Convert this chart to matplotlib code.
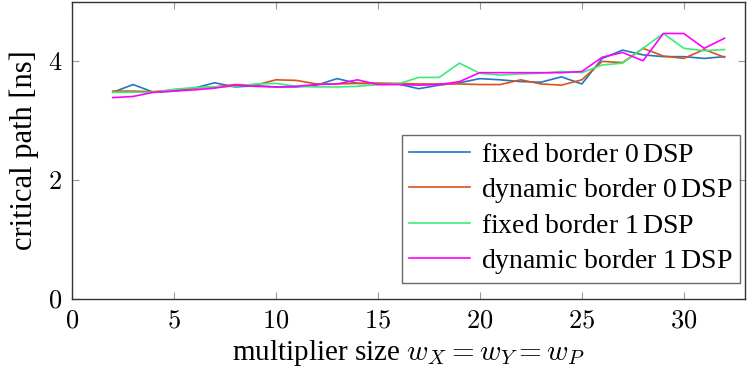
import numpy as np
import matplotlib
matplotlib.use("Agg")
import matplotlib.pyplot as plt
from matplotlib.ticker import FuncFormatter

plt.rcParams['font.family'] = ['Liberation Serif', 'DejaVu Serif']
plt.rcParams['mathtext.fontset'] = 'cm'

sizes = list(range(2, 33))

fixed_0dsp = [3.48, 3.61, 3.48, 3.50, 3.55, 3.64, 3.57, 3.59, 3.57, 3.57, 3.60,
              3.71, 3.63, 3.63, 3.62, 3.54, 3.60, 3.64, 3.71, 3.69, 3.66, 3.65,
              3.74, 3.62, 4.05, 4.19, 4.11, 4.08, 4.08, 4.05, 4.08]
dynamic_0dsp = [3.50, 3.50, 3.49, 3.52, 3.55, 3.57, 3.61, 3.60, 3.69, 3.68, 3.62,
                3.62, 3.63, 3.63, 3.63, 3.62, 3.62, 3.62, 3.61, 3.61, 3.69, 3.62,
                3.60, 3.69, 4.00, 3.98, 4.22, 4.09, 4.05, 4.20, 4.07]
fixed_1dsp = [3.48, 3.48, 3.48, 3.53, 3.56, 3.57, 3.58, 3.62, 3.63, 3.58, 3.57,
              3.57, 3.58, 3.61, 3.62, 3.73, 3.73, 3.97, 3.80, 3.77, 3.79, 3.80,
              3.83, 3.81, 3.94, 3.97, 4.22, 4.47, 4.22, 4.18, 4.20]
dynamic_1dsp = [3.39, 3.41, 3.48, 3.50, 3.52, 3.55, 3.60, 3.58, 3.57, 3.58, 3.61,
                3.62, 3.69, 3.61, 3.61, 3.60, 3.61, 3.66, 3.81, 3.81, 3.81, 3.81,
                3.81, 3.83, 4.07, 4.15, 4.01, 4.47, 4.47, 4.22, 4.39]

fig = plt.figure(figsize=(7.56, 3.69), dpi=100)
ax = fig.add_axes([0.0952, 0.1897, 0.8902, 0.8049])

ax.plot(sizes, fixed_0dsp, color='#1f78c1', lw=1.2, label=r'fixed border 0$\,$DSP')
ax.plot(sizes, dynamic_0dsp, color='#D95319', lw=1.2, label=r'dynamic border 0$\,$DSP')
ax.plot(sizes, fixed_1dsp, color='#3DEB7A', lw=1.2, label=r'fixed border 1$\,$DSP')
ax.plot(sizes, dynamic_1dsp, color='#FF00FF', lw=1.2, label=r'dynamic border 1$\,$DSP')

ax.set_xlim(0, 33)
ax.set_ylim(0, 5)
ax.set_xticks([0, 5, 10, 15, 20, 25, 30])
ax.set_yticks([0, 2, 4])
fmt = FuncFormatter(lambda v, p: '$%g$' % v)
ax.xaxis.set_major_formatter(fmt)
ax.yaxis.set_major_formatter(fmt)
ax.tick_params(direction='in', top=True, right=True, length=5, width=0.8,
               color='#999999', labelsize=19)
ax.tick_params(axis='x', pad=8)
ax.tick_params(axis='y', pad=7)
for s in ax.spines.values():
    s.set_color('#333333')
    s.set_linewidth(1.0)

ax.set_xlabel(r'multiplier size $w_X = w_Y = w_P$', fontsize=21, labelpad=4)
ax.set_ylabel('critical path [ns]', fontsize=22, labelpad=6)

leg = ax.legend(loc='lower right', fontsize=20, frameon=True, fancybox=False,
                edgecolor='#444444', handlelength=2.2, handletextpad=0.4,
                borderpad=0.25, labelspacing=0.3, borderaxespad=0,
                bbox_to_anchor=(0.9926, 0.054))
leg.get_frame().set_linewidth(1.0)

fig.savefig('out.png', dpi=100)
